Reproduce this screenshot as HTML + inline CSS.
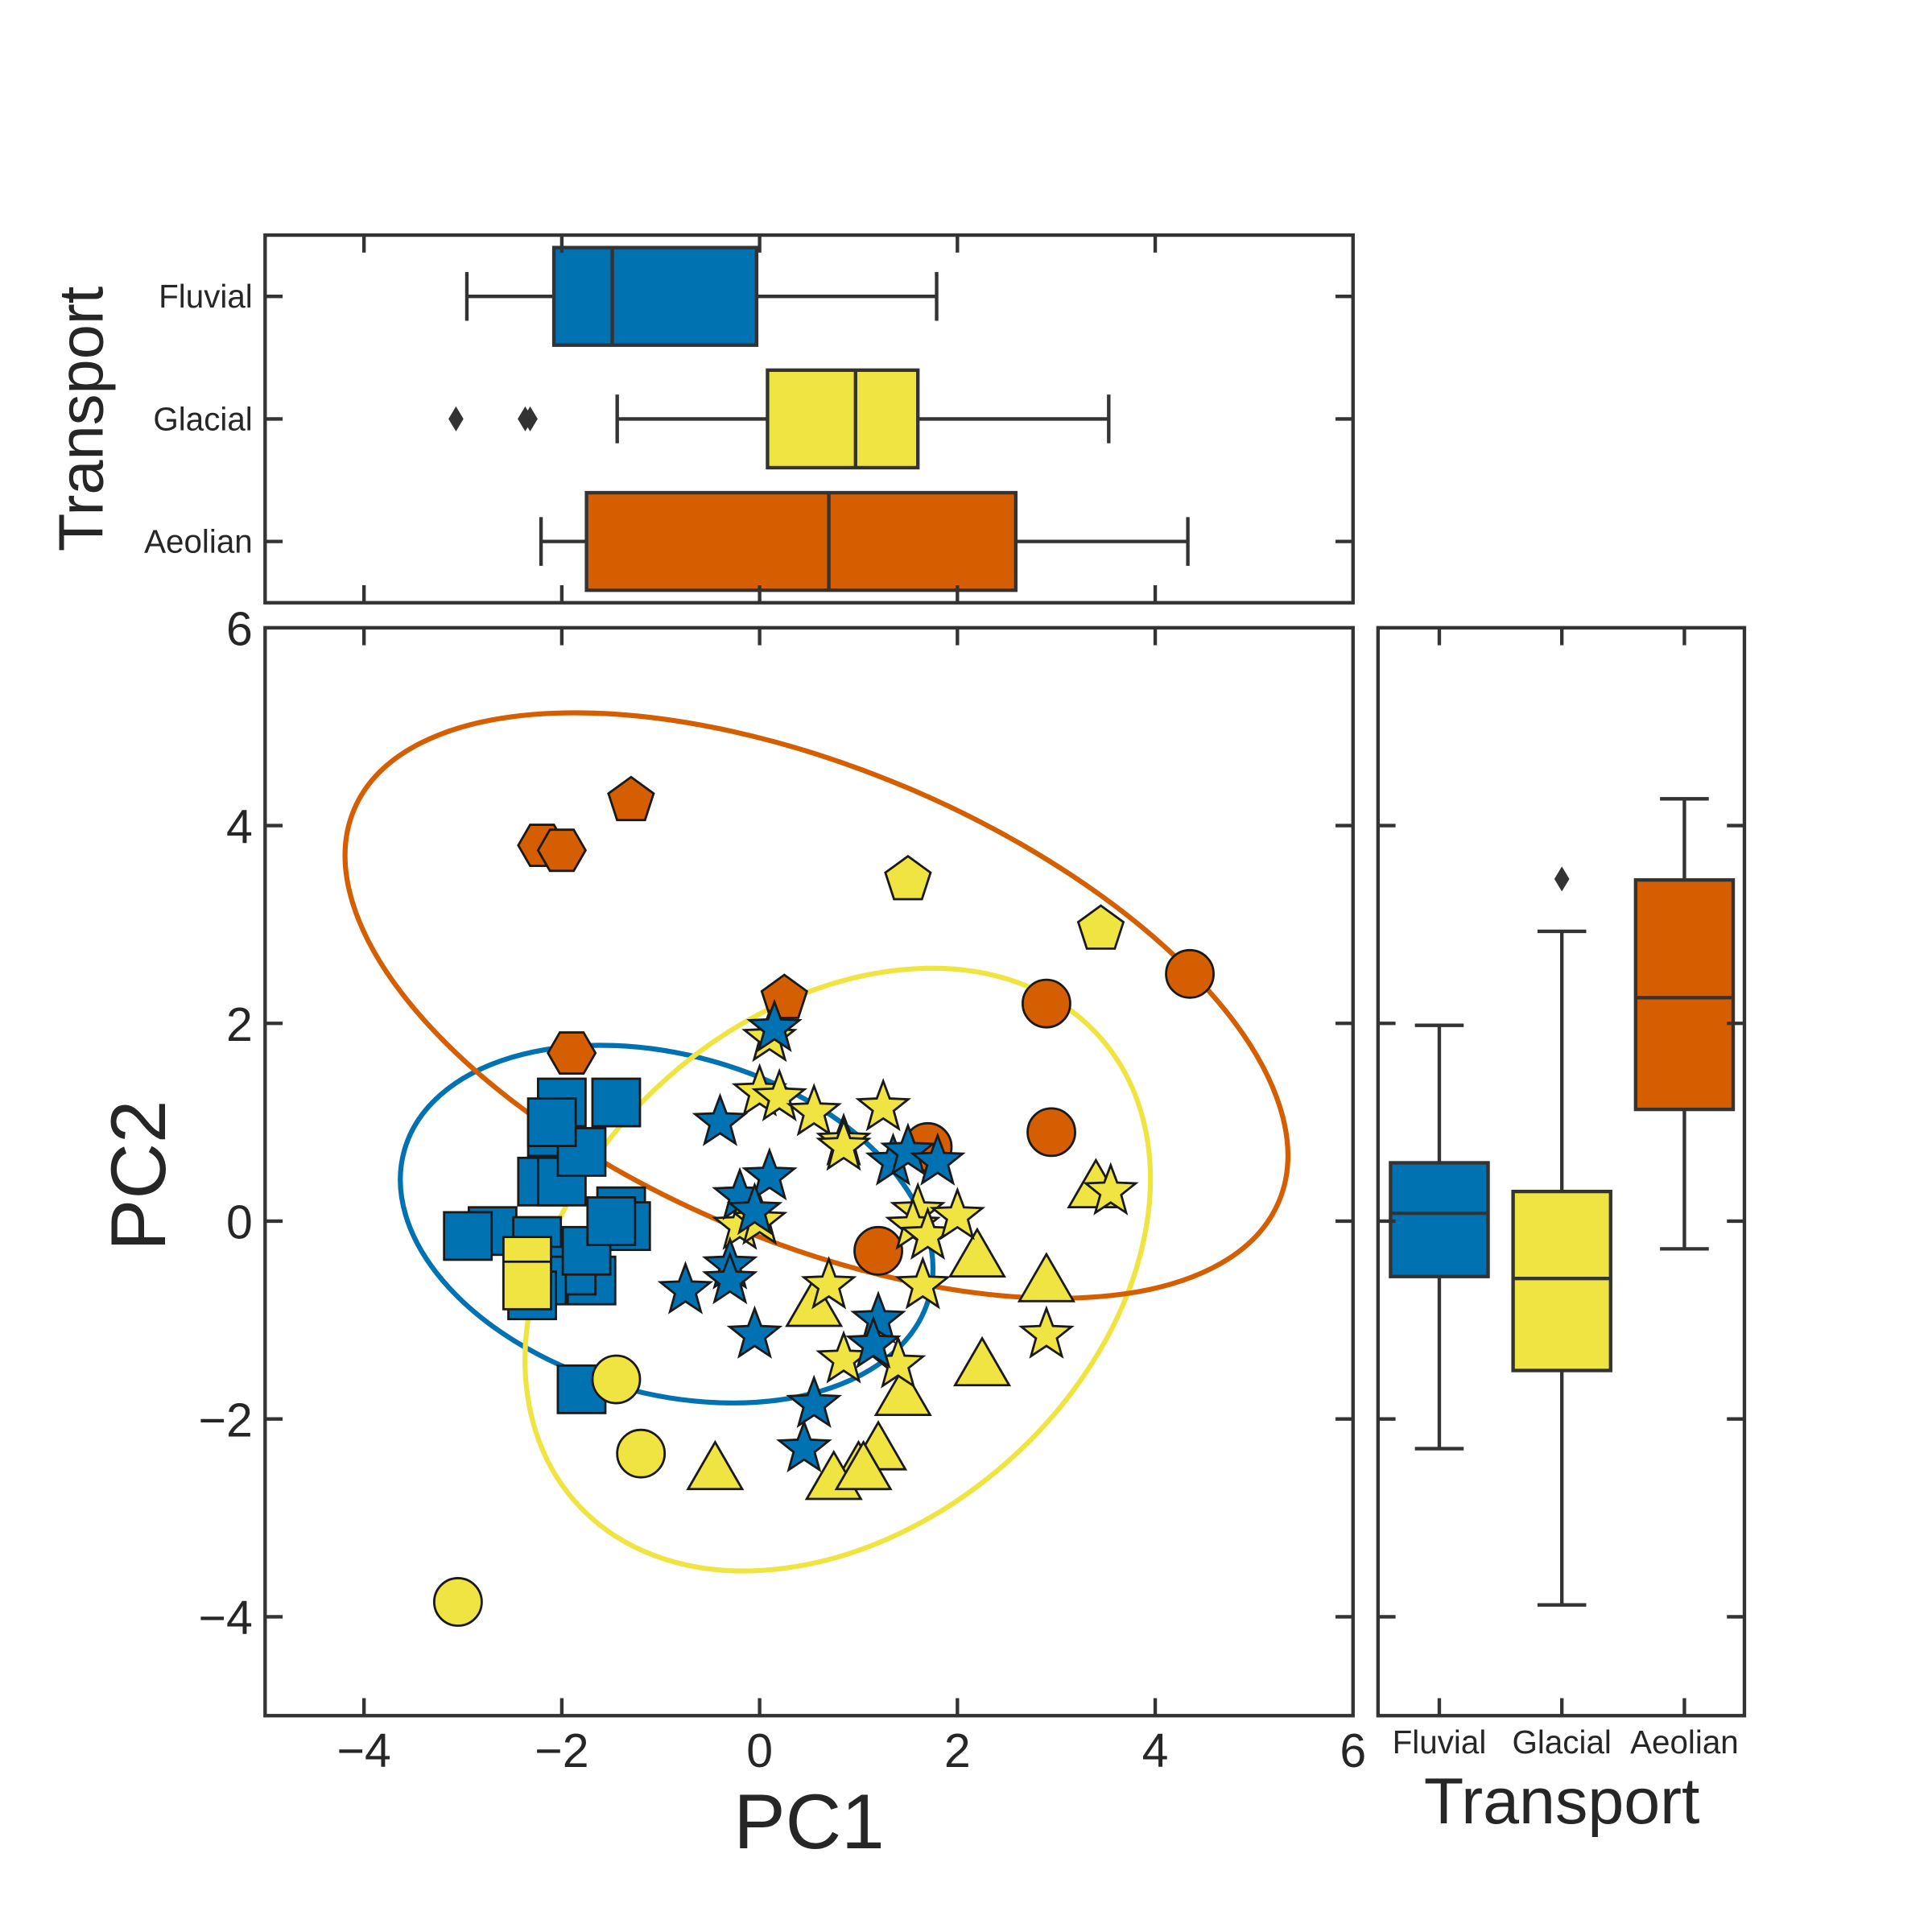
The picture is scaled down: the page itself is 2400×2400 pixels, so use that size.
<!DOCTYPE html>
<html><head><meta charset="utf-8"><style>
html,body{margin:0;padding:0;background:#fff}
svg{display:block}
text{font-family:"Liberation Sans",Arial,sans-serif;fill:#262626}
</style></head><body>
<svg id="chart" xmlns="http://www.w3.org/2000/svg" width="2400" height="2400" viewBox="0 0 1545 1545">
<g id="g-ell"></g>
<g id="g-pts"></g>
<g id="g-box"></g>
<g id="g-ax"></g>
</svg>
<script>
// ---- data ----
const groups = ["Fluvial","Glacial","Aeolian"];
const groupColors = ["#0072b2","#f0e442","#d55e00"];
const fluvialSquaresX = [-2.0,-1.45,-2.1,-2.2,-2.0,-1.8,-2.7,-2.95,-1.4,-1.35,-2.25,-1.7,-1.9,-2.2,-2.3,-1.75,-1.8,-1.5,-2.1];
const fluvialSquaresY = [1.2,1.2,0.9,0.4,0.4,0.7,-0.1,-0.15,0.1,-0.05,-0.2,-0.6,-0.5,-0.6,-0.75,-0.3,-1.7,0.0,1.0];
const fluvialStarsX = [-0.4,0.15,-0.2,0.1,-0.05,-0.3,-0.3,-0.75,-0.05,1.2,1.15,0.55,0.45,1.35,1.5,1.8];
const fluvialStarsY = [1.0,1.95,0.25,0.45,0.1,-0.45,-0.6,-0.7,-1.15,-1.0,-1.25,-1.85,-2.3,0.6,0.7,0.6];
const glacialSquaresX = [-2.35,-2.35];
const glacialSquaresY = [-0.4,-0.65];
const glacialCirclesX = [-1.45,-1.2,-3.05];
const glacialCirclesY = [-1.6,-2.35,-3.85];
const glacialStarsX = [0.0,0.2,0.55,1.25,0.85,0.85,0.1,1.6,1.55,1.7,2.0,0.7,1.65,0.85,1.4,2.9,3.55,-0.2,0.0];
const glacialStarsY = [1.3,1.25,1.1,1.15,0.8,0.75,1.85,0.1,-0.05,-0.15,0.05,-0.65,-0.65,-1.4,-1.45,-1.15,0.3,-0.05,0.0];
const glacialTrianglesX = [2.2,2.9,0.55,2.25,1.45,1.2,1.0,-0.45,0.75,1.05,3.4];
const glacialTrianglesY = [-0.35,-0.6,-0.85,-1.45,-1.75,-2.3,-2.5,-2.5,-2.6,-2.5,0.35];
const glacialPentagonsX = [1.5,3.45];
const glacialPentagonsY = [3.45,2.95];
const aeolianHexagonsX = [-2.2,-2.0,-1.9];
const aeolianHexagonsY = [3.8,3.75,1.7];
const aeolianPentagonsX = [-1.3,0.25];
const aeolianPentagonsY = [4.25,2.25];
const aeolianCirclesX = [4.35,2.9,2.95,1.7,1.2];
const aeolianCirclesY = [2.5,2.2,0.9,0.75,-0.3];
// ellipses (data units): center x, center y, semi-major, semi-minor, angle deg (screen)
const ellipseCX = [-0.94,0.79,0.575];
const ellipseCY = [-0.03,-0.49,2.18];
const ellipseA = [2.755,3.543,5.078];
const ellipseB = [1.712,2.593,2.386];
const ellipseAngle = [15.65,-41.5,23];
// box stats
const pc1WhisLo = [-2.96,-1.44,-2.21];
const pc1Q1 = [-2.08,0.08,-1.75];
const pc1Med = [-1.49,0.97,0.70];
const pc1Q3 = [-0.03,1.60,2.59];
const pc1WhisHi = [1.79,3.53,4.33];
const pc1Outliers = [[],[-3.07,-2.37,-2.32],[]];
const pc2WhisLo = [-2.30,-3.88,-0.28];
const pc2Q1 = [-0.56,-1.51,1.13];
const pc2Med = [0.08,-0.58,2.26];
const pc2Q3 = [0.59,0.30,3.45];
const pc2WhisHi = [1.98,2.93,4.27];
const pc2Outliers = [[],[3.46],[]];
const tickVals = [-4,-2,0,2,4,6];
const tickLabels = ["\u22124","\u22122","0","2","4","6"];

// ---- geometry ----
const M = {l:212,r:1082,t:502,b:1372};
const T = {t:188,b:482};
const R = {l:1102,r:1395};
const xS = v => M.l + (v+5)/11*(M.r-M.l);
const yS = v => M.b - (v+5)/11*(M.b-M.t);
const catY = i => 237 + i*98;
const catX = i => 1151 + i*98;
const NS="http://www.w3.org/2000/svg";
function mk(tag, parent, attrs){const e=document.createElementNS(NS,tag);for(const k in attrs)e.setAttribute(k,attrs[k]);parent.appendChild(e);return e;}
const gE=document.getElementById('g-ell'),gP=document.getElementById('g-pts'),gB=document.getElementById('g-box'),gA=document.getElementById('g-ax');
const ppu=(M.r-M.l)/11;
const ST="#1a1a1a", SW=1.8;

for(let i=0;i<3;i++){
  const e=mk('ellipse',gE,{cx:xS(ellipseCX[i]),cy:yS(ellipseCY[i]),rx:ellipseA[i]*ppu,ry:ellipseB[i]*ppu,fill:'none',stroke:groupColors[i],'stroke-width':4,transform:`rotate(${ellipseAngle[i]} ${xS(ellipseCX[i])} ${yS(ellipseCY[i])})`});
  
  
}
function poly(n,r,rot,inner){let p=[];const m=inner?2*n:n;for(let k=0;k<m;k++){const rr=inner?(k%2?r*inner:r):r;const a=rot+k*Math.PI*2/m;p.push((rr*Math.sin(a)).toFixed(2)+','+(-rr*Math.cos(a)).toFixed(2));}return p.join(' ');}
function marker(shape,x,y,color,name){
  const cx=xS(x),cy=yS(y);let e;
  if(shape==='square') e=mk('rect',gP,{x:cx-19,y:cy-19,width:38,height:38});
  else if(shape==='circle') e=mk('circle',gP,{cx:cx,cy:cy,r:19});
  else {
    let pts;
    if(shape==='star') pts=poly(5,21,0,0.42);
    else if(shape==='triangle') pts=poly(3,25,0);
    else if(shape==='pentagon') pts=poly(5,19,0);
    else pts=poly(6,19,Math.PI/6);
    e=mk('polygon',gP,{points:pts,transform:`translate(${cx},${cy+(shape==='triangle'?4:0)})`});
  }
  e.setAttribute('fill',color);e.setAttribute('stroke',ST);e.setAttribute('stroke-width',SW);
  
  
}
function series(xs,ys,shape,ci,name){for(let i=0;i<xs.length;i++)marker(shape,xs[i],ys[i],groupColors[ci],name);}
series(fluvialSquaresX,fluvialSquaresY,'square',0,'fluvial-square-point');
series(glacialSquaresX,glacialSquaresY,'square',1,'glacial-square-point');
series(aeolianHexagonsX,aeolianHexagonsY,'hexagon',2,'aeolian-hexagon-point');
series(aeolianPentagonsX,aeolianPentagonsY,'pentagon',2,'aeolian-pentagon-point');
series(glacialCirclesX,glacialCirclesY,'circle',1,'glacial-circle-point');
series(aeolianCirclesX,aeolianCirclesY,'circle',2,'aeolian-circle-point');
series(glacialPentagonsX,glacialPentagonsY,'pentagon',1,'glacial-pentagon-point');
series(glacialTrianglesX,glacialTrianglesY,'triangle',1,'glacial-triangle-point');
series(glacialStarsX,glacialStarsY,'star',1,'glacial-star-point');
series(fluvialStarsX,fluvialStarsY,'star',0,'fluvial-star-point');

const BC="#333", BW=2.8;
function line(p,x1,y1,x2,y2,name){const e=mk('line',p,{x1,y1,x2,y2,stroke:BC,'stroke-width':BW});return e;}
function diamond(cx,cy,name){const e=mk('polygon',gB,{points:`${cx},${cy-10} ${cx+6},${cy} ${cx},${cy+10} ${cx-6},${cy}`,fill:BC});}
for(let i=0;i<3;i++){
  const cy=catY(i),h=39,g=groups[i].toLowerCase();
  line(gB,xS(pc1WhisLo[i]),cy,xS(pc1Q1[i]),cy,'pc1-whisker-'+g);
  line(gB,xS(pc1Q3[i]),cy,xS(pc1WhisHi[i]),cy,'pc1-whisker-'+g);
  line(gB,xS(pc1WhisLo[i]),cy-h/2,xS(pc1WhisLo[i]),cy+h/2,'pc1-cap-'+g);
  line(gB,xS(pc1WhisHi[i]),cy-h/2,xS(pc1WhisHi[i]),cy+h/2,'pc1-cap-'+g);
  const r=mk('rect',gB,{x:xS(pc1Q1[i]),y:cy-h,width:xS(pc1Q3[i])-xS(pc1Q1[i]),height:2*h,fill:groupColors[i],stroke:BC,'stroke-width':BW});
  
  
  line(gB,xS(pc1Med[i]),cy-h,xS(pc1Med[i]),cy+h,'pc1-median-'+g);
  pc1Outliers[i].forEach(v=>diamond(xS(v),cy,'pc1-outlier-'+g));
  const cx=catX(i),w=39;
  line(gB,cx,yS(pc2WhisLo[i]),cx,yS(pc2Q1[i]),'pc2-whisker-'+g);
  line(gB,cx,yS(pc2Q3[i]),cx,yS(pc2WhisHi[i]),'pc2-whisker-'+g);
  line(gB,cx-w/2,yS(pc2WhisLo[i]),cx+w/2,yS(pc2WhisLo[i]),'pc2-cap-'+g);
  line(gB,cx-w/2,yS(pc2WhisHi[i]),cx+w/2,yS(pc2WhisHi[i]),'pc2-cap-'+g);
  const r2=mk('rect',gB,{x:cx-w,y:yS(pc2Q3[i]),width:2*w,height:yS(pc2Q1[i])-yS(pc2Q3[i]),fill:groupColors[i],stroke:BC,'stroke-width':BW});
  
  
  line(gB,cx-w,yS(pc2Med[i]),cx+w,yS(pc2Med[i]),'pc2-median-'+g);
  pc2Outliers[i].forEach(v=>diamond(cx,yS(v),'pc2-outlier-'+g));
}

function frame(x,y,w,h,name){const e=mk('rect',gA,{x,y,width:w,height:h,fill:'none',stroke:BC,'stroke-width':2.8});}
frame(M.l,M.t,M.r-M.l,M.b-M.t,'main-axes-frame');
frame(M.l,T.t,M.r-M.l,T.b-T.t,'top-boxplot-frame');
frame(R.l,M.t,R.r-R.l,M.b-M.t,'right-boxplot-frame');
function txt(s,x,y,size,anchor,name,extra){const e=mk('text',gA,Object.assign({x,y,'font-size':size,'text-anchor':anchor},extra||{}));e.textContent=s;return e;}
const TL=14;
tickVals.forEach((v,i)=>{
  const x=xS(v),y=yS(v);
  if(v<6){
    line(gA,x,M.b,x,M.b-TL,'x-tick');line(gA,x,M.t,x,M.t+TL,'x-tick');
    line(gA,x,T.b,x,T.b-TL,'top-x-tick');line(gA,x,T.t,x,T.t+TL,'top-x-tick');
    line(gA,M.l,y,M.l+TL,y,'y-tick');line(gA,M.r,y,M.r-TL,y,'y-tick');
    line(gA,R.l,y,R.l+TL,y,'right-y-tick');line(gA,R.r,y,R.r-TL,y,'right-y-tick');
  }
  txt(tickLabels[i],x,M.b+41,38,'middle','x-tick-label');
  txt(tickLabels[i],M.l-10,y+14,38,'end','y-tick-label');
});
groups.forEach((g,i)=>{
  const y=catY(i),x=catX(i);
  line(gA,M.l,y,M.l+TL,y,'top-y-tick');line(gA,M.r,y,M.r-TL,y,'top-y-tick');
  txt(g,M.l-10,y+9,26,'end','top-category-label');
  line(gA,x,M.b,x,M.b-TL,'right-x-tick');line(gA,x,M.t,x,M.t+TL,'right-x-tick');
  txt(g,x,M.b+30,26,'middle','right-category-label');
});
txt('PC1',647,1478,62,'middle','x-axis-title');
txt('PC2',132,940,62,'middle','y-axis-title',{transform:'rotate(-90 132 940)'});
txt('Transport',82,335,50,'middle','top-y-axis-title',{transform:'rotate(-90 82 335)'});
txt('Transport',1249,1458,52,'middle','right-x-axis-title');
</script>
</body></html>
